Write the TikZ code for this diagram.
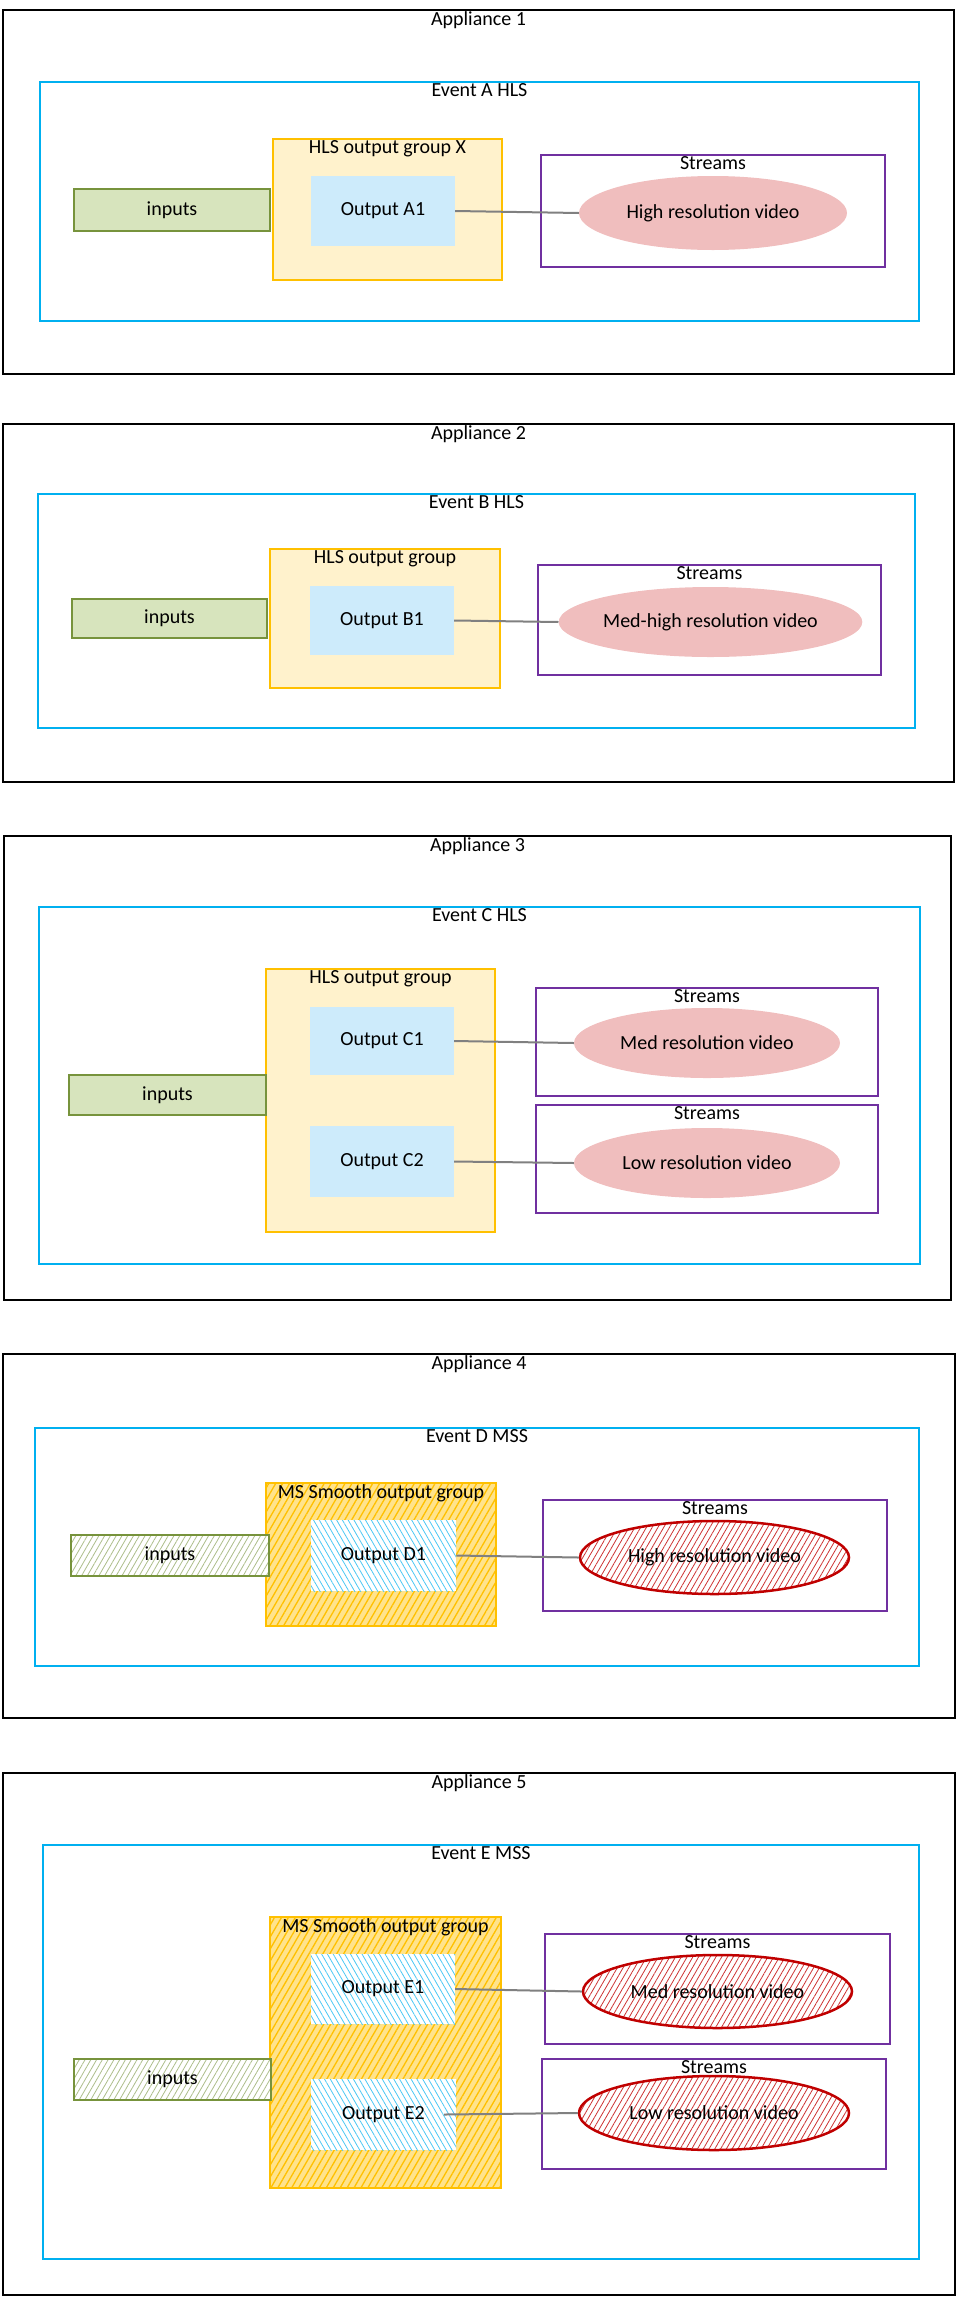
\documentclass[tikz,border=0pt]{standalone}
\usepackage{fontspec}
\setmainfont{Carlito}
\usetikzlibrary{shapes.geometric,patterns.meta}
\definecolor{evc}{HTML}{00B0F0}
\definecolor{grpc}{HTML}{FFC000}
\definecolor{grpf}{HTML}{FFF2CC}
\definecolor{outf}{HTML}{CDEBFB}
\definecolor{inf}{HTML}{D7E4BD}
\definecolor{inc}{HTML}{77933C}
\definecolor{stc}{HTML}{7030A0}
\definecolor{elf}{HTML}{F0BEBE}
\definecolor{elc}{HTML}{C00000}
\tikzset{
  xbase/.style={draw,rectangle,inner sep=0pt,font=\fontsize{20}{24}\selectfont},
  xapp/.style={xbase,draw=black,line width=2pt},
  xev/.style={xbase,draw=evc,line width=2pt},
  xgrp/.style={xbase,draw=grpc,line width=2pt,fill=grpf},
  xgrph/.style={xbase,draw=grpc,line width=2pt,preaction={fill=grpc!45},pattern={Lines[angle=60,distance=6pt,line width=1.3pt]},pattern color=grpc},
  xout/.style={xbase,draw=none,fill=outf},
  xouth/.style={xbase,draw=none,preaction={fill=white},pattern={Lines[angle=-60,distance=5pt,line width=.8pt]},pattern color=evc!70},
  xinp/.style={xbase,draw=inc,line width=2pt,fill=inf},
  xinph/.style={xbase,draw=inc,line width=2pt,preaction={fill=white},pattern={Lines[angle=60,distance=5pt,line width=.8pt]},pattern color=inc!60},
  xst/.style={xbase,draw=stc,line width=2pt},
  xel/.style={xbase,ellipse,draw=none,fill=elf},
  xelh/.style={xbase,ellipse,draw=elc,line width=2.5pt,preaction={fill=white},pattern={Lines[angle=60,distance=5pt,line width=.8pt]},pattern color=elc!80},
  xconn/.style={draw=gray,line width=2pt},
  xttl/.style={label={[anchor=north,inner sep=1pt,yshift=-1pt,font=\fontsize{20}{24}\selectfont]north:#1}}
}
\newcommand{\mybox}[7]{\node[#1,minimum width={#5-#3},minimum height={#6-#4}] (#2) at ({(#3+#5)/2},{(#4+#6)/2}) {#7};}
\begin{document}
\begin{tikzpicture}[x=1pt,y=-1pt]
\useasboundingbox (0,0) rectangle (957,2297);
% Appliance 1
\mybox{xapp,xttl=Appliance 1}{ap1}{3}{10}{954}{374}{}
\mybox{xev,xttl=Event A HLS}{ev1}{40}{82}{919}{321}{}
\mybox{xgrp,xttl=HLS output group X}{g1}{273}{139}{502}{280}{}
\mybox{xout}{oa1}{311}{176}{455}{246}{Output A1}
\mybox{xinp}{in1}{74}{189}{270}{231}{inputs}
\mybox{xst,xttl=Streams}{s1}{541}{155}{885}{267}{}
\mybox{xel}{e1}{579}{176}{847}{250}{High resolution video}
\draw[xconn] (oa1.east) -- (e1.west);
% Appliance 2
\mybox{xapp,xttl=Appliance 2}{ap2}{3}{424}{954}{782}{}
\mybox{xev,xttl=Event B HLS}{ev2}{38}{494}{915}{728}{}
\mybox{xgrp,xttl=HLS output group}{g2}{270}{549}{500}{688}{}
\mybox{xout}{ob1}{310}{586}{454}{655}{Output B1}
\mybox{xinp}{in2}{72}{599}{267}{638}{inputs}
\mybox{xst,xttl=Streams}{s2}{538}{565}{881}{675}{}
\mybox{xel}{e2}{579}{587}{842}{657}{Med-high resolution video}
\draw[xconn] (ob1.east) -- (e2.west);
% Appliance 3
\mybox{xapp,xttl=Appliance 3}{ap3}{4}{836}{951}{1300}{}
\mybox{xev,xttl=Event C HLS}{ev3}{39}{907}{920}{1264}{}
\mybox{xgrp,xttl=HLS output group}{g3}{266}{969}{495}{1232}{}
\mybox{xout}{oc1}{310}{1007}{454}{1075}{Output C1}
\mybox{xout}{oc2}{310}{1126}{454}{1197}{Output C2}
\mybox{xinp}{in3}{69}{1075}{266}{1115}{inputs}
\mybox{xst,xttl=Streams}{s3a}{536}{988}{878}{1096}{}
\mybox{xst,xttl=Streams}{s3b}{536}{1105}{878}{1213}{}
\mybox{xel}{e3a}{574}{1008}{840}{1078}{Med resolution video}
\mybox{xel}{e3b}{574}{1128}{840}{1198}{Low resolution video}
\draw[xconn] (oc1.east) -- (e3a.west);
\draw[xconn] (oc2.east) -- (e3b.west);
% Appliance 4
\mybox{xapp,xttl=Appliance 4}{ap4}{3}{1354}{955}{1718}{}
\mybox{xev,xttl=Event D MSS}{ev4}{35}{1428}{919}{1666}{}
\mybox{xgrph,xttl=MS Smooth output group}{g4}{266}{1483}{496}{1626}{}
\mybox{xouth}{od1}{311}{1520}{456}{1591}{Output D1}
\mybox{xinph}{in4}{71}{1535}{269}{1576}{inputs}
\mybox{xst,xttl=Streams}{s4}{543}{1500}{887}{1611}{}
\mybox{xelh}{e4}{580}{1521}{849}{1594}{High resolution video}
\draw[xconn] (od1.east) -- (e4.west);
% Appliance 5
\mybox{xapp,xttl=Appliance 5}{ap5}{3}{1773}{955}{2295}{}
\mybox{xev,xttl=Event E MSS}{ev5}{43}{1845}{919}{2259}{}
\mybox{xgrph,xttl=MS Smooth output group}{g5}{270}{1917}{501}{2188}{}
\mybox{xouth}{oe1}{311}{1954}{455}{2024}{Output E1}
\mybox{xouth}{oe2}{311}{2079}{456}{2150}{Output E2}
\mybox{xinph}{in5}{74}{2059}{271}{2100}{inputs}
\mybox{xst,xttl=Streams}{s5a}{545}{1934}{890}{2044}{}
\mybox{xst,xttl=Streams}{s5b}{542}{2059}{886}{2169}{}
\mybox{xelh}{e5a}{583}{1955}{852}{2028}{Med resolution video}
\mybox{xelh}{e5b}{579}{2076}{849}{2150}{Low resolution video}
\draw[xconn] (oe1.east) -- (e5a.west);
\draw[xconn] ([xshift=-12pt]oe2.east) -- (e5b.west);
\end{tikzpicture}
\end{document}
